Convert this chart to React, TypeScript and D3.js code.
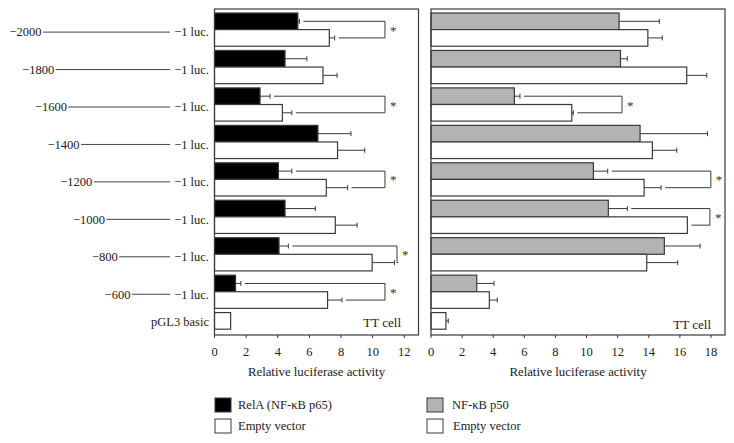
import React from "react";
import * as d3 from "d3";

const categories = ["−2000", "−1800", "−1600", "−1400", "−1200", "−1000", "−800", "−600", "pGL3 basic"];
const positions = [2000, 1800, 1600, 1400, 1200, 1000, 800, 600];

const relaValues = [5.27, 4.46, 2.88, 6.54, 4.04, 4.46, 4.08, 1.33];
const relaErr = [0.1, 1.38, 0.63, 2.09, 0.85, 1.91, 0.59, 0.34];
const emptyLeftValues = [7.26, 6.86, 4.29, 7.78, 7.07, 7.64, 9.97, 7.15, 1.02];
const emptyLeftErr = [0.34, 0.89, 0.6, 1.72, 1.35, 1.38, 1.41, 0.91, 0];

const p50Values = [12.09, 12.18, 5.36, 13.44, 10.44, 11.4, 15.0, 2.94];
const p50Err = [2.59, 0.44, 0.36, 4.33, 0.92, 1.22, 2.3, 1.11];
const emptyRightValues = [13.94, 16.44, 9.05, 14.23, 13.7, 16.48, 13.87, 3.75, 0.96];
const emptyRightErr = [0.93, 1.29, 0.1, 1.57, 1.09, 0, 1.99, 0.51, 0.15];

const leftBracketRows = [0, 2, 4, 6, 7];
const leftBracketX = [10.78, 10.78, 10.78, 11.54, 10.78];
const rightBracketRows = [2, 4, 5];
const rightBracketX = [12.28, 17.99, 17.93];

const leftTicks = [0, 2, 4, 6, 8, 10, 12];
const rightTicks = [0, 2, 4, 6, 8, 10, 12, 14, 16, 18];

const FONT = "'Liberation Serif', 'DejaVu Serif', serif";
const STROKE = "#3a3a3a";

const TOP = 9;
const BOTTOM = 335;
const BAR_H = 16.6;

const yBand = d3.scaleBand<string>().domain(categories).range([13, 13 + 37.45 * 9]).padding(0);
const posScale = d3.scaleLinear().domain([0, 2000]).range([170, 43]);

type PanelProps = {
  x: d3.ScaleLinear<number, number>;
  treat: number[];
  treatErr: number[];
  empty: number[];
  emptyErr: number[];
  treatFill: string;
  ticks: number[];
  bracketRows: number[];
  bracketX: number[];
  cellLabelRight: number;
  cellLabelY: number;
};

function ErrBar({ x0, x1, y }: { x0: number; x1: number; y: number }) {
  if (x1 - x0 < 0.5) return null;
  return (
    <g stroke={STROKE} strokeWidth={1}>
      <line x1={x0} x2={x1} y1={y} y2={y} />
      <line x1={x1} x2={x1} y1={y - 2.5} y2={y + 2.5} />
    </g>
  );
}

function Panel({ x, treat, treatErr, empty, emptyErr, treatFill, ticks, bracketRows, bracketX, cellLabelRight, cellLabelY }: PanelProps) {
  const [r0, r1] = x.range();
  const gap = 4;
  return (
    <g>
      {categories.map((c, i) => {
        const y0 = yBand(c) as number;
        const hasTreat = i < treat.length;
        const yWhite = hasTreat ? y0 + BAR_H : y0;
        return (
          <g key={c}>
            {hasTreat && (
              <>
                <rect x={x(0)} y={y0} width={x(treat[i]) - x(0)} height={BAR_H} fill={treatFill} stroke={STROKE} strokeWidth={1.2} />
                <ErrBar x0={x(treat[i])} x1={x(treat[i] + treatErr[i])} y={y0 + BAR_H / 2} />
              </>
            )}
            <rect x={x(0)} y={yWhite} width={x(empty[i]) - x(0)} height={BAR_H} fill="#fff" stroke={STROKE} strokeWidth={1.2} />
            <ErrBar x0={x(empty[i])} x1={x(empty[i] + emptyErr[i])} y={yWhite + BAR_H / 2} />
          </g>
        );
      })}
      {bracketRows.map((ri, k) => {
        const c = categories[ri];
        const y0 = yBand(c) as number;
        const yA = y0 + BAR_H / 2;
        const yB = y0 + BAR_H * 1.5;
        const bx = x(bracketX[k]);
        const ax = x(treat[ri] + treatErr[ri]) + gap;
        const wx = x(empty[ri] + emptyErr[ri]) + gap;
        return (
          <g key={"b" + ri}>
            <path d={`M${ax},${yA}H${bx}V${yB}H${wx}`} fill="none" stroke={STROKE} strokeWidth={1} />
            <text x={bx + 5} y={(yA + yB) / 2 + 5} fontFamily={FONT} fontSize={13} fill="#333">*</text>
          </g>
        );
      })}
      <rect x={r0} y={TOP} width={r1 - r0} height={BOTTOM - TOP} fill="none" stroke={STROKE} strokeWidth={1.2} />
      {ticks.map((t) => (
        <g key={t}>
          <line x1={x(t)} x2={x(t)} y1={BOTTOM} y2={BOTTOM + 3} stroke={STROKE} strokeWidth={1} />
          <text x={x(t)} y={BOTTOM + 21} textAnchor="middle" fontFamily={FONT} fontSize={12.5} fill="#222">{t}</text>
        </g>
      ))}
      <text x={cellLabelRight} y={cellLabelY} textAnchor="end" fontFamily={FONT} fontSize={13} fill="#222">TT cell</text>
      <text x={(r0 + r1) / 2} y={376} textAnchor="middle" fontFamily={FONT} fontSize={12.8} fill="#222">Relative luciferase activity</text>
    </g>
  );
}

export default function App() {
  const xLeft = d3.scaleLinear().domain([0, 12.9]).range([214.5, 418.5]);
  const xRight = d3.scaleLinear().domain([0, 18.9]).range([431, 725]);
  return (
    <svg width={734} height={443} style={{ position: "absolute", left: 0, top: 0, background: "#fff" }}>
      <rect width={734} height={443} fill="#fff" />
      {categories.map((c, i) => {
        const y0 = yBand(c) as number;
        if (i < positions.length) {
          const yc = y0 + BAR_H + 2.5;
          const lx = posScale(positions[i]);
          return (
            <g key={c} fontFamily={FONT} fontSize={12.5} fill="#222">
              <text x={lx - 1.5} y={yc} dy="0.35em" textAnchor="end">{c}</text>
              <line x1={lx} x2={170} y1={yc} y2={yc} stroke="#444" strokeWidth={1} />
              <text x={209} y={yc} dy="0.35em" textAnchor="end">−1 luc.</text>
            </g>
          );
        }
        return (
          <text key={c} x={209} y={y0 + BAR_H / 2 + 1} dy="0.35em" textAnchor="end" fontFamily={FONT} fontSize={12.5} fill="#222">{c}</text>
        );
      })}
      <Panel x={xLeft} treat={relaValues} treatErr={relaErr} empty={emptyLeftValues} emptyErr={emptyLeftErr}
        treatFill="#000" ticks={leftTicks} bracketRows={leftBracketRows} bracketX={leftBracketX}
        cellLabelRight={401} cellLabelY={327} />
      <Panel x={xRight} treat={p50Values} treatErr={p50Err} empty={emptyRightValues} emptyErr={emptyRightErr}
        treatFill="#b3b3b3" ticks={rightTicks} bracketRows={rightBracketRows} bracketX={rightBracketX}
        cellLabelRight={711} cellLabelY={329} />
      <g fontFamily={FONT} fontSize={12.5} fill="#222">
        <rect x={215} y={398} width={16} height={14} fill="#000" stroke={STROKE} strokeWidth={1} />
        <text x={238} y={405} dy="0.35em">RelA (NF-κB p65)</text>
        <rect x={215} y={419} width={16} height={14} fill="#fff" stroke={STROKE} strokeWidth={1} />
        <text x={238} y={426} dy="0.35em">Empty vector</text>
        <rect x={427} y={398} width={16} height={14} fill="#b3b3b3" stroke={STROKE} strokeWidth={1} />
        <text x={452} y={405} dy="0.35em">NF-κB p50</text>
        <rect x={427} y={419} width={16} height={14} fill="#fff" stroke={STROKE} strokeWidth={1} />
        <text x={453} y={426} dy="0.35em">Empty vector</text>
      </g>
    </svg>
  );
}
